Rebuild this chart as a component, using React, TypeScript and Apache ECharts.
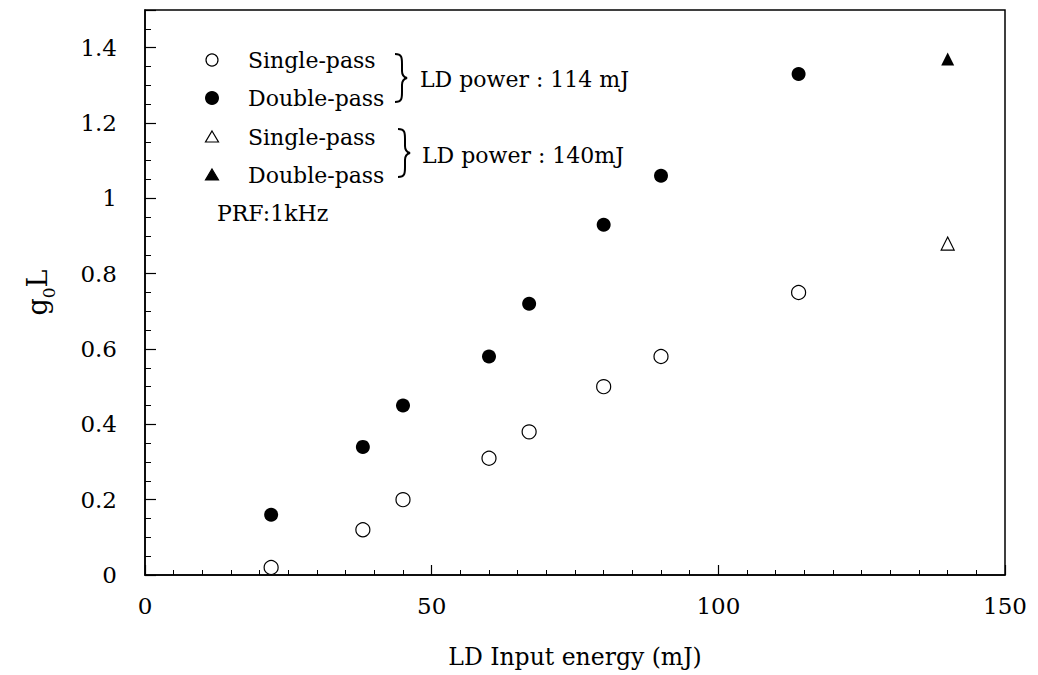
import React, { useEffect, useRef } from "react";
import * as echarts from "echarts";

const energy114 = [22, 38, 45, 60, 67, 80, 90, 114];
const single114 = [0.02, 0.12, 0.2, 0.31, 0.38, 0.5, 0.58, 0.75];
const double114 = [0.16, 0.34, 0.45, 0.58, 0.72, 0.93, 1.06, 1.33];
const energy140 = [140];
const single140 = [0.88];
const double140 = [1.37];

const xTicks = { min: 0, max: 150, interval: 50 };
const yTicks = { min: 0, max: 1.5, interval: 0.2 };

const FONT = "DejaVu Serif";

const braceD =
  "M0,0 C7,0 7,4 7,10 L7,17 C7,21 8,23 12,24 C8,25 7,27 7,31 L7,38 C7,44 7,48 0,48";

let registered = false;
function registerBrace() {
  if (registered) return;
  echarts.graphic.registerShape("logo", echarts.graphic.extendPath(braceD, {}) as any);
  registered = true;
}

function pairs(xs: number[], ys: number[]) {
  return xs.map((x, i) => [x, ys[i]]);
}

export default function App() {
  const ref = useRef<HTMLDivElement>(null);
  useEffect(() => {
    if (!ref.current) return;
    registerBrace();
    const chart = echarts.init(ref.current, null, { renderer: "svg" });
    const textStyle = { fontFamily: FONT, fontSize: 22, fill: "#000" };
    const txt = (x: number, y: number, t: string) => ({
      type: "text",
      x,
      y,
      style: { ...textStyle, text: t, verticalAlign: "middle", align: "left" },
    });
    const tri = (cx: number, cy: number, filled: boolean) => ({
      type: "polygon",
      shape: { points: [[cx, cy - 6], [cx + 6.5, cy + 5], [cx - 6.5, cy + 5]] },
      style: { fill: filled ? "#000" : "#fff", stroke: "#000", lineWidth: 1.2 },
    });
    chart.setOption({
      animation: false,
      backgroundColor: "#fff",
      textStyle: { fontFamily: FONT },
      grid: {
        left: 145,
        right: 33,
        top: 10,
        bottom: 100,
        show: true,
        borderColor: "#000",
        borderWidth: 1.5,
        backgroundColor: "transparent",
      },
      xAxis: {
        type: "value",
        min: xTicks.min,
        max: xTicks.max,
        interval: xTicks.interval,
        name: "LD Input energy (mJ)",
        nameLocation: "middle",
        nameGap: 70,
        nameTextStyle: { fontFamily: FONT, fontSize: 23.5, color: "#000" },
        axisLine: { show: true, lineStyle: { color: "#000", width: 1.5 } },
        axisTick: { show: true, inside: true, length: 10, lineStyle: { color: "#000", width: 1.2 } },
        minorTick: { show: true, splitNumber: 10, length: 5, lineStyle: { color: "#000", width: 1 } },
        axisLabel: { fontFamily: FONT, fontSize: 23, color: "#000", margin: 19 },
        splitLine: { show: false },
      },
      yAxis: {
        type: "value",
        min: yTicks.min,
        max: yTicks.max,
        interval: yTicks.interval,
        name: "{a|g}{b|0}{a|L}",
        nameLocation: "middle",
        nameGap: 88,
        nameTextStyle: {
          color: "#000",
          rich: {
            a: { fontFamily: FONT, fontSize: 27, lineHeight: 40, color: "#000" },
            b: { fontFamily: FONT, fontSize: 17, lineHeight: 17, verticalAlign: "bottom", color: "#000" },
          },
        },
        axisLine: { show: true, lineStyle: { color: "#000", width: 1.5 } },
        axisTick: { show: true, inside: true, length: 11, lineStyle: { color: "#000", width: 1.2 } },
        minorTick: { show: true, splitNumber: 4, length: 6, lineStyle: { color: "#000", width: 1 } },
        axisLabel: { fontFamily: FONT, fontSize: 23, color: "#000", margin: 28, showMaxLabel: false },
        splitLine: { show: false },
      },
      series: [
        {
          name: "Single-pass 114",
          type: "scatter",
          symbol: "circle",
          symbolSize: 14,
          itemStyle: { color: "#fff", borderColor: "#000", borderWidth: 1.2, opacity: 1 },
          data: pairs(energy114, single114),
        },
        {
          name: "Double-pass 114",
          type: "scatter",
          symbol: "circle",
          symbolSize: 14,
          itemStyle: { color: "#000", opacity: 1 },
          data: pairs(energy114, double114),
        },
        {
          name: "Single-pass 140",
          type: "scatter",
          symbol: "triangle",
          symbolSize: 13,
          itemStyle: { color: "#fff", borderColor: "#000", borderWidth: 1.2, opacity: 1 },
          data: pairs(energy140, single140),
        },
        {
          name: "Double-pass 140",
          type: "scatter",
          symbol: "triangle",
          symbolSize: 13,
          itemStyle: { color: "#000", opacity: 1 },
          data: pairs(energy140, double140),
        },
      ],
      graphic: [
        { type: "circle", shape: { cx: 212, cy: 60, r: 6 }, style: { fill: "#fff", stroke: "#000", lineWidth: 1.2 } },
        { type: "circle", shape: { cx: 212, cy: 98, r: 7 }, style: { fill: "#000" } },
        tri(212, 137, false),
        tri(212, 175, true),
        txt(248, 60, "Single-pass"),
        txt(248, 98, "Double-pass"),
        txt(248, 137, "Single-pass"),
        txt(248, 175, "Double-pass"),
        txt(217, 213, "PRF:1kHz"),
        {
          type: "logo",
          x: 395,
          y: 54,
          style: { fill: "none", stroke: "#000", lineWidth: 2 },
        },
        {
          type: "logo",
          x: 398,
          y: 129,
          style: { fill: "none", stroke: "#000", lineWidth: 2 },
        },
        txt(420, 79, "LD power : 114 mJ"),
        txt(422, 155, "LD power : 140mJ"),
      ],
    } as any);
    return () => chart.dispose();
  }, []);
  return <div ref={ref} style={{ width: 1038, height: 675, position: "absolute", left: 0, top: 0 }} />;
}
